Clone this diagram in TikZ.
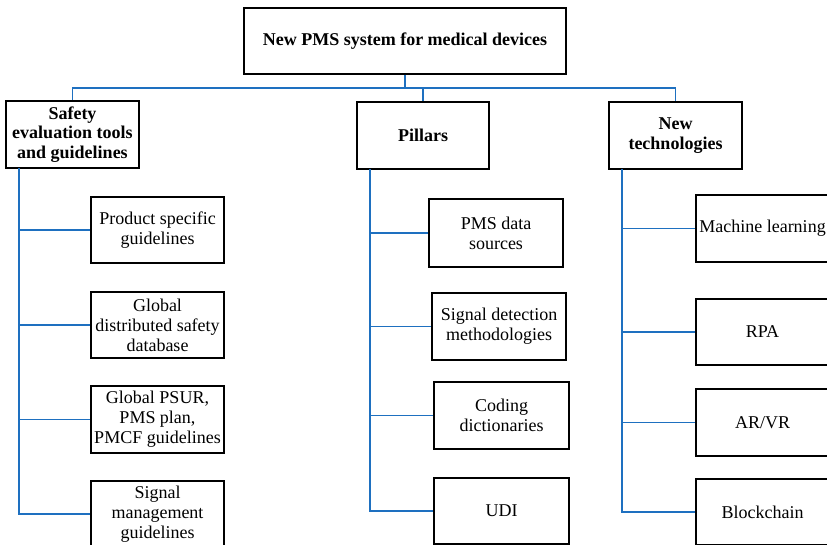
\documentclass[tikz,border=0pt]{standalone}
\usepackage{fontspec}
\setmainfont{Liberation Serif}
\usepackage{tikz}
\definecolor{linkblue}{RGB}{30,112,192}

\begin{document}
\begin{tikzpicture}[x=1pt,y=-1pt,
    box/.style={rectangle,draw=black,line width=1.4pt,fill=white,align=center,inner sep=1pt,
      font=\fontsize{18}{20}\selectfont},
    head/.style={box,font=\fontsize{18}{19.5}\selectfont\bfseries},
    link/.style={draw=linkblue,line width=1.6pt}]
        \useasboundingbox (0,0) rectangle (827,544);
        \clip (0,0) rectangle (827,544);

    	\node at (405,41) [head,minimum width=322pt,minimum height=66pt] (pms) {New PMS system for medical devices};

        \node at (72.5,134.5) [head,minimum width=133pt,minimum height=67pt] (safety) {Safety\\evaluation tools\\and guidelines};
        \node at (423,135.5) [head,minimum width=132pt,minimum height=67pt] (pillars) {Pillars};
        \node at (675.5,135.5) [head,minimum width=133pt,minimum height=67pt] (newtech) {New\\technologies};

        \node at (157.5,230) [box,minimum width=133pt,minimum height=66pt] (s1) {Product specific\\guidelines};
        \node at (157.5,325) [box,minimum width=133pt,minimum height=66pt] (s2) {Global\\distributed safety\\database};
        \node at (157.5,419.5) [box,minimum width=133pt,minimum height=67pt] (s3) {Global PSUR,\\PMS plan,\\PMCF guidelines};
        \node at (157.5,514) [box,minimum width=133pt,minimum height=66pt] (s4) {Signal\\management\\guidelines};

        \node at (496,233) [box,minimum width=134pt,minimum height=68pt] (p1) {PMS data\\sources};
        \node at (499,326.5) [box,minimum width=134pt,minimum height=67pt] (p2) {Signal detection\\methodologies};
        \node at (501.5,415.5) [box,minimum width=135pt,minimum height=67pt] (p3) {Coding\\dictionaries};
        \node at (501.5,511) [box,minimum width=135pt,minimum height=66pt] (p4) {UDI};

        \node at (762.5,228.5) [box,minimum width=133pt,minimum height=67pt] (n1) {Machine learning};
        \node at (762.5,332) [box,minimum width=133pt,minimum height=66pt] (n2) {RPA};
        \node at (762.5,422.5) [box,minimum width=133pt,minimum height=67pt] (n3) {AR/VR};
        \node at (762.5,512) [box,minimum width=133pt,minimum height=66pt] (n4) {Blockchain};

        \coordinate (bus) at (405,88);
        \coordinate (sroot) at (19,168);
        \coordinate (proot) at (370,169);
        \coordinate (nroot) at (622,169);

        \draw[link] (pms) -- (bus) (bus) -| (safety) (bus) -| (pillars) (bus) -| (newtech);
        \draw[link] (sroot) |- (s1) (sroot) |- (s2) (sroot) |- (s3) (sroot) |- (s4);
        \draw[link] (proot) |- (p1) (proot) |- (p2) (proot) |- (p3) (proot) |- (p4);
        \draw[link] (nroot) |- (n1) (nroot) |- (n2) (nroot) |- (n3) (nroot) |- (n4);
        \end{tikzpicture}
\end{document}
